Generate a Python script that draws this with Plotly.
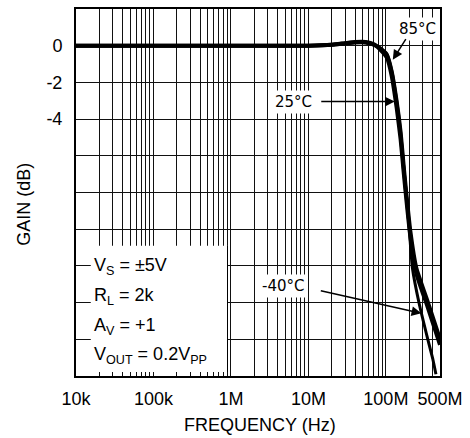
import math
import plotly.graph_objects as go

# ---------------- data ----------------
freq_25 = [1e4, 1e5, 1e6, 1e7, 2e7, 3e7, 4e7, 5.5e7, 7e7, 8.5e7, 1.03e8, 1.19e8,
           1.38e8, 1.55e8, 1.69e8, 1.84e8, 2.07e8, 2.47e8, 3.5e8, 5.0e8]
gain_25 = [0, 0, 0, 0, 0.05, 0.13, 0.18, 0.18, 0.05, -0.15, -0.49, -1.41,
           -3.04, -4.7, -6.45, -8.08, -10.1, -12.1, -14.0, -16.0]

freq_85 = [1e4, 1e5, 1e6, 1e7, 2e7, 3e7, 4e7, 5.5e7, 7e7, 8.5e7, 1.03e8, 1.19e8,
           1.38e8, 1.55e8, 1.69e8, 1.84e8, 2.07e8, 2.47e8, 3.5e8, 5.0e8]
gain_85 = [0, 0, 0, 0, 0.05, 0.14, 0.2, 0.2, 0.08, -0.22, -0.65, -1.65,
           -3.4, -5.1, -6.8, -8.4, -10.4, -12.4, -14.3, -16.3]

freq_m40 = [1e4, 1e5, 1e6, 1e7, 2e7, 3e7, 4e7, 5.5e7, 7e7, 8.5e7, 1.03e8, 1.19e8,
            1.38e8, 1.55e8, 1.69e8, 1.84e8, 2.01e8, 2.2e8, 2.69e8, 3.5e8, 4.05e8, 4.43e8]
gain_m40 = [0, 0, 0, 0, 0.05, 0.12, 0.17, 0.16, 0.03, -0.15, -0.45, -1.35,
            -3.0, -4.7, -6.45, -8.1, -10.05, -12.1, -14.05, -16.05, -17.1, -17.9]

x_tick_vals = [m * 10 ** k for k in range(4, 8) for m in range(1, 10)] + [1e8, 2e8, 3e8, 4e8, 5e8]
x_tick_labels = {1e4: "10k", 1e5: "100k", 1e6: "1M", 1e7: "10M", 1e8: "100M", 5e8: "500M"}
y_tick_vals = list(range(-18, 3, 2))
y_tick_labels = {0: "0", -2: "-2", -4: "-4"}

x_title = "FREQUENCY (Hz)"
y_title = "GAIN (dB)"
conditions = ["V<sub>S</sub> = ±5V", "R<sub>L</sub> = 2k", "A<sub>V</sub> = +1",
              "V<sub>OUT</sub> = 0.2V<sub>PP</sub>"]

# ---------------- figure ----------------
LW, RW, TW, BW = 76, 24, 7, 62
W, H = 470, 438
XMIN, XMAX = 4.0, math.log10(5e8)
YMIN, YMAX = -18, 2
pw, ph = W - LW - RW, H - TW - BW


def px2x(px):
    return XMIN + (px - LW) / pw * (XMAX - XMIN)


def px2f(px):
    return 10 ** px2x(px)


def py2y(py):
    return YMAX - (py - TW) / ph * (YMAX - YMIN)


fig = go.Figure()
for f, g, w in [(freq_m40, gain_m40, 3), (freq_85, gain_85, 4), (freq_25, gain_25, 4)]:
    fig.add_trace(go.Scatter(x=f, y=g, mode="lines",
                             line=dict(color="black", width=w, shape="spline", smoothing=0.5),
                             showlegend=False, hoverinfo="skip"))

tickfont = dict(family="Liberation Sans, Arial", size=18, color="black")
fig.update_xaxes(type="log", range=[XMIN, XMAX], tickvals=x_tick_vals,
                 ticktext=[x_tick_labels.get(v, "") for v in x_tick_vals],
                 showgrid=True, gridcolor="#111111", gridwidth=1, ticks="",
                 showline=True, linecolor="black", linewidth=2, mirror=True,
                 tickfont=tickfont, ticklabelstandoff=5, zeroline=False)
fig.update_yaxes(range=[YMIN, YMAX], tickvals=y_tick_vals,
                 ticktext=[y_tick_labels.get(v, "") for v in y_tick_vals],
                 showgrid=True, gridcolor="#111111", gridwidth=1, ticks="",
                 showline=True, linecolor="black", linewidth=2, mirror=True,
                 tickfont=tickfont, ticklabelstandoff=8, zeroline=False)

# conditions box (shapes on log axes use raw data values)
fig.add_shape(type="rect", xref="x", yref="y", x0=px2f(91), x1=px2f(230), y0=py2y(372), y1=py2y(245),
              fillcolor="white", line=dict(width=0), layer="above")
fig.add_shape(type="line", xref="x", yref="y", x0=px2f(230), x1=px2f(230), y0=py2y(372), y1=py2y(245),
              line=dict(color="black", width=1), layer="above")
for i, t in enumerate(conditions):
    fig.add_annotation(x=px2x(92), y=py2y([266, 296, 326, 355][i]), xref="x", yref="y", text=t,
                       showarrow=False, xanchor="left", yanchor="middle",
                       font=dict(family="Liberation Sans, Arial", size=18, color="black"))

lblfont = dict(family="DejaVu Sans", size=15, color="black")
# temperature labels
for txt, cx, cy in [("85°C", 423, 27), ("25°C", 297, 100), ("-40°C", 286, 286)]:
    fig.add_annotation(x=px2x(cx), y=py2y(cy), xref="x", yref="y", text=txt, showarrow=False,
                       bgcolor="white", font=lblfont, borderpad=2)
# arrows
for hx, hy, tx, ty in [(398, 58, 412, 36), (400, 100, 325, 100), (427, 313, 325, 290)]:
    fig.add_annotation(x=px2x(hx), y=py2y(hy), xref="x", yref="y", text="", showarrow=True,
                       ax=tx - hx, ay=ty - hy, arrowhead=2, arrowsize=1.3, arrowwidth=1.5,
                       arrowcolor="black")

# axis titles
fig.add_annotation(x=(263 - LW) / pw, y=(H - BW - 437) / ph, xref="paper", yref="paper", text=x_title,
                   showarrow=False, xanchor="center", yanchor="bottom",
                   font=dict(family="Liberation Sans, Arial", size=18, color="black"))
fig.add_annotation(x=(23 - LW) / pw, y=(H - BW - 203) / ph, xref="paper", yref="paper", text=y_title,
                   showarrow=False, xanchor="center", yanchor="middle", textangle=-90,
                   font=dict(family="Liberation Sans, Arial", size=18, color="black"))

fig.update_layout(width=W, height=H, margin=dict(l=LW, r=RW, t=TW, b=BW),
                  paper_bgcolor="white", plot_bgcolor="white")
fig.write_html("out.html", config={"displayModeBar": False},
               post_script="document.body.style.margin='0';document.body.style.overflow='hidden';")
